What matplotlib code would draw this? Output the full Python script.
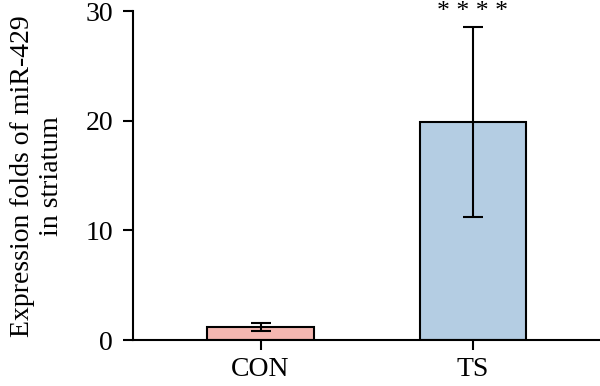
import numpy as np
import matplotlib.pyplot as plt

groups = ['CON', 'TS']
means = [1.2, 19.9]
errors = [0.35, 8.65]
bar_colors = ['#F5B7B1', '#B4CDE3']
signif = '* * * *'

plt.rcParams['font.family'] = ['Liberation Serif', 'DejaVu Serif']

fig = plt.figure(figsize=(6.0, 3.86), dpi=100)
ax = fig.add_axes([0.222, 0.119, 0.778, 0.852])

x = np.arange(len(groups))
ax.bar(x, means, width=0.5, color=bar_colors, edgecolor='black', linewidth=1.5, zorder=2)
ax.errorbar(x, means, yerr=errors, fmt='none', ecolor='black', elinewidth=1.5,
            capsize=7, capthick=1.5, zorder=3)
ax.text(x[1], 29.35, signif, ha='center', va='baseline', fontsize=18.5, clip_on=False)

ax.set_xlim(-0.6, 1.6)
ax.set_ylim(0, 30)
ax.set_yticks([0, 10, 20, 30])
ax.set_xticks(x)
ax.set_xticklabels(groups)
ax.set_ylabel('Expression folds of miR-429\nin striatum', fontsize=20, linespacing=1.2)
ax.yaxis.set_label_coords(-0.148, 0.5)

for side in ['top', 'right']:
    ax.spines[side].set_visible(False)
for side in ['left', 'bottom']:
    ax.spines[side].set_linewidth(1.5)
ax.tick_params(axis='both', labelsize=20, width=1.5, length=7.5)
ax.tick_params(axis='y', pad=7)
ax.tick_params(axis='x', pad=5)

fig.savefig('out.png', dpi=100)
